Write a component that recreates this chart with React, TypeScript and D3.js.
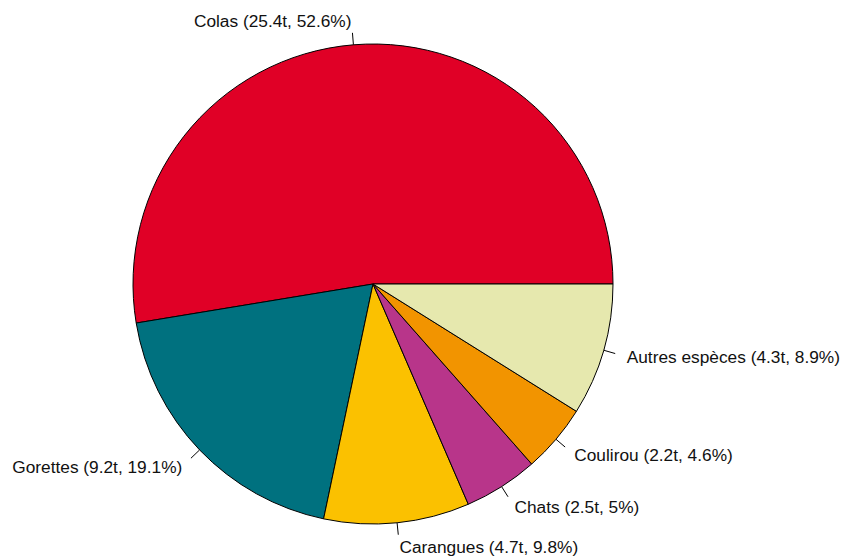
import React from "react";
import * as d3 from "d3";

const species = ["Colas", "Gorettes", "Carangues", "Chats", "Coulirou", "Autres espèces"];
const tonnes = ["25.4", "9.2", "4.7", "2.5", "2.2", "4.3"];
const percents = [52.6, 19.1, 9.8, 5, 4.6, 8.9];
const colors = ["#E00026", "#00717F", "#FBC100", "#B8358A", "#F29400", "#E6E8AE"];

const W = 843;
const H = 558;
const cx = 373;
const cy = 284;
const R = 240;

export default function App() {
  const total = d3.sum(percents);
  const cum: number[] = [];
  let acc = 0;
  percents.forEach((p) => {
    cum.push(acc);
    acc += p;
  });
  const arc = d3.arc<any>().innerRadius(0).outerRadius(R);
  return (
    <svg
      width={W}
      height={H}
      style={{ position: "absolute", left: 0, top: 0, background: "#fff" }}
      fontFamily="'Liberation Sans', Arial, sans-serif"
    >
      <g transform={`translate(${cx},${cy})`}>
        {percents.map((p, i) => {
          const t0 = (2 * Math.PI * cum[i]) / total;
          const t1 = (2 * Math.PI * (cum[i] + p)) / total;
          const d = arc({ startAngle: Math.PI / 2 - t0, endAngle: Math.PI / 2 - t1 }) as string;
          return <path key={"s" + i} d={d} fill={colors[i]} stroke="#000" strokeWidth={1} />;
        })}
        {percents.map((p, i) => {
          const tm = (2 * Math.PI * (cum[i] + p / 2)) / total;
          const c = Math.cos(tm);
          const s = Math.sin(tm);
          return (
            <g key={"l" + i}>
              <line x1={R * c} y1={-R * s} x2={1.05 * R * c} y2={-1.05 * R * s} stroke="#000" strokeWidth={1} />
              <text
                x={1.1 * R * c}
                y={-1.1 * R * s}
                textAnchor={c >= 0 ? "start" : "end"}
                dominantBaseline="central"
                fontSize={17.3}
                fill="#111"
              >
                {`${species[i]} (${tonnes[i]}t, ${percents[i]}%)`}
              </text>
            </g>
          );
        })}
      </g>
    </svg>
  );
}
